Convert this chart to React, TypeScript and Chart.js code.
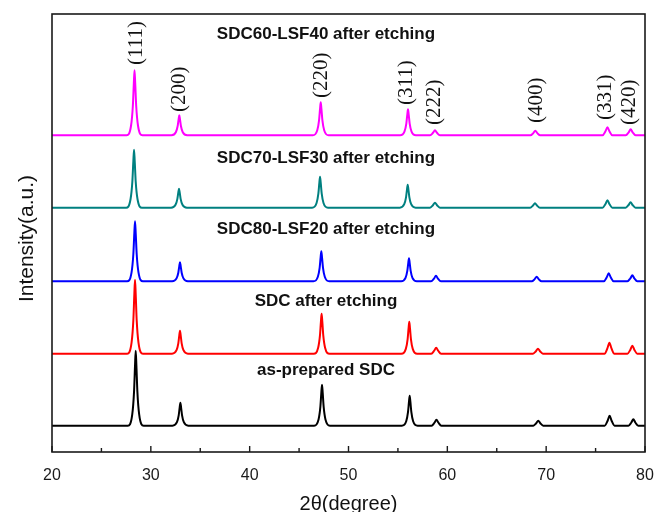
import React, { useEffect, useRef } from 'react';
import { Chart, registerables } from 'chart.js';

Chart.register(...registerables);

type Pt = [number, number];

// Series names, colours and vertical offsets (stacked display, a.u.)
const seriesNames = [
  'as-prepared SDC',
  'SDC after etching',
  'SDC80-LSF20 after etching',
  'SDC70-LSF30 after etching',
  'SDC60-LSF40 after etching',
];
const seriesColors = ['#000000', '#ff0000', '#0000ff', '#008080', '#ff00ff'];
const seriesOffsets = [26.3, 98.3, 170.7, 244.3, 316.7];

// Intensity above baseline (a.u.) vs 2θ (degree)
const asPrepared: Pt[] = [
  [20, 0],
  [27.67, 0], [28.12, 11.3], [28.3, 33.8], [28.4, 60], [28.47, 75], [28.54, 60], [28.64, 33.8], [28.82, 11.3], [29.27, 0],
  [32.19, 0], [32.64, 3.5], [32.82, 10.4], [32.92, 18.4], [32.99, 23], [33.06, 18.4], [33.16, 10.4], [33.34, 3.5], [33.79, 0],
  [46.52, 0], [46.97, 6.2], [47.15, 18.5], [47.25, 32.8], [47.32, 41], [47.39, 32.8], [47.49, 18.5], [47.67, 6.2], [48.12, 0],
  [55.39, 0], [55.84, 4.5], [56.02, 13.5], [56.12, 24], [56.19, 30], [56.26, 24], [56.36, 13.5], [56.54, 4.5], [56.99, 0],
  [58.4, 0], [58.7, 3], [58.9, 6], [59.1, 3], [59.4, 0],
  [68.7, 0], [69.0, 2.5], [69.2, 5], [69.4, 2.5], [69.7, 0],
  [75.92, 0], [76.22, 5], [76.42, 10], [76.62, 5], [76.92, 0],
  [78.32, 0], [78.62, 3.2], [78.82, 6.5], [79.02, 3.2], [79.32, 0],
  [80, 0],
];

const sdcEtched: Pt[] = [
  [20, 0],
  [27.6, 0], [28.05, 11.1], [28.23, 33.3], [28.33, 59.2], [28.4, 74], [28.47, 59.2], [28.57, 33.3], [28.75, 11.1], [29.2, 0],
  [32.15, 0], [32.6, 3.5], [32.78, 10.4], [32.88, 18.4], [32.95, 23], [33.02, 18.4], [33.12, 10.4], [33.3, 3.5], [33.75, 0],
  [46.48, 0], [46.93, 6], [47.11, 18], [47.21, 32], [47.28, 40], [47.35, 32], [47.45, 18], [47.63, 6], [48.08, 0],
  [55.35, 0], [55.8, 4.8], [55.98, 14.4], [56.08, 25.6], [56.15, 32], [56.22, 25.6], [56.32, 14.4], [56.5, 4.8], [56.95, 0],
  [58.37, 0], [58.67, 3], [58.87, 6], [59.07, 3], [59.37, 0],
  [68.67, 0], [68.97, 2.5], [69.17, 5], [69.37, 2.5], [69.67, 0],
  [75.9, 0], [76.2, 5.5], [76.4, 11], [76.6, 5.5], [76.9, 0],
  [78.22, 0], [78.52, 4], [78.72, 8], [78.92, 4], [79.22, 0],
  [80, 0],
];

const sdc80: Pt[] = [
  [20, 0],
  [27.6, 0], [28.05, 9], [28.23, 27], [28.33, 48], [28.4, 60], [28.47, 48], [28.57, 27], [28.75, 9], [29.2, 0],
  [32.15, 0], [32.6, 2.9], [32.78, 8.6], [32.88, 15.2], [32.95, 19], [33.02, 15.2], [33.12, 8.6], [33.3, 2.9], [33.75, 0],
  [46.45, 0], [46.9, 4.5], [47.08, 13.5], [47.18, 24], [47.25, 30], [47.32, 24], [47.42, 13.5], [47.6, 4.5], [48.05, 0],
  [55.32, 0], [55.77, 3.5], [55.95, 10.4], [56.05, 18.4], [56.12, 23], [56.19, 18.4], [56.29, 10.4], [56.47, 3.5], [56.92, 0],
  [58.35, 0], [58.65, 2.7], [58.85, 5.5], [59.05, 2.7], [59.35, 0],
  [68.54, 0], [68.84, 2.2], [69.04, 4.5], [69.24, 2.2], [69.54, 0],
  [75.83, 0], [76.13, 4], [76.33, 8], [76.53, 4], [76.83, 0],
  [78.22, 0], [78.52, 3], [78.72, 6], [78.92, 3], [79.22, 0],
  [80, 0],
];

const sdc70: Pt[] = [
  [20, 0],
  [27.5, 0], [27.95, 8.7], [28.13, 26.1], [28.23, 46.4], [28.3, 58], [28.37, 46.4], [28.47, 26.1], [28.65, 8.7], [29.1, 0],
  [32.05, 0], [32.5, 2.9], [32.68, 8.6], [32.78, 15.2], [32.85, 19], [32.92, 15.2], [33.02, 8.6], [33.2, 2.9], [33.65, 0],
  [46.32, 0], [46.77, 4.7], [46.95, 14], [47.05, 24.8], [47.12, 31], [47.19, 24.8], [47.29, 14], [47.47, 4.7], [47.92, 0],
  [55.19, 0], [55.64, 3.5], [55.82, 10.4], [55.92, 18.4], [55.99, 23], [56.06, 18.4], [56.16, 10.4], [56.34, 3.5], [56.79, 0],
  [58.25, 0], [58.55, 2.5], [58.75, 5], [58.95, 2.5], [59.25, 0],
  [68.37, 0], [68.67, 2.2], [68.87, 4.5], [69.07, 2.2], [69.37, 0],
  [75.7, 0], [76.0, 3.7], [76.2, 7.5], [76.4, 3.7], [76.7, 0],
  [78.04, 0], [78.34, 2.7], [78.54, 5.5], [78.74, 2.7], [79.04, 0],
  [80, 0],
];

const sdc60: Pt[] = [
  [20, 0],
  [27.55, 0], [28.0, 9.8], [28.18, 29.3], [28.28, 52], [28.35, 65], [28.42, 52], [28.52, 29.3], [28.7, 9.8], [29.15, 0],
  [32.08, 0], [32.53, 3], [32.71, 9], [32.81, 16], [32.88, 20], [32.95, 16], [33.05, 9], [33.23, 3], [33.68, 0],
  [46.39, 0], [46.84, 5], [47.02, 14.9], [47.12, 26.4], [47.19, 33], [47.26, 26.4], [47.36, 14.9], [47.54, 5], [47.99, 0],
  [55.22, 0], [55.67, 3.9], [55.85, 11.7], [55.95, 20.8], [56.02, 26], [56.09, 20.8], [56.19, 11.7], [56.37, 3.9], [56.82, 0],
  [58.25, 0], [58.55, 2.5], [58.75, 5], [58.95, 2.5], [59.25, 0],
  [68.4, 0], [68.7, 2.2], [68.9, 4.5], [69.1, 2.2], [69.4, 0],
  [75.7, 0], [76.0, 4], [76.2, 8], [76.4, 4], [76.7, 0],
  [78.05, 0], [78.35, 3], [78.55, 6], [78.75, 3], [79.05, 0],
  [80, 0],
];

const seriesData: Pt[][] = [asPrepared, sdcEtched, sdc80, sdc70, sdc60];

// Series label anchor (2θ, a.u. on the stacked scale)
const seriesLabelX = [47.72, 47.72, 47.72, 47.72, 47.72];
const seriesLabelY = [77, 146.5, 218, 289, 412.7];

// Miller index annotations
const hklLabels = ['(111)', '(200)', '(220)', '(311)', '(222)', '(400)', '(331)', '(420)'];
const hklX = [28.5, 32.85, 47.22, 55.82, 58.65, 68.97, 75.96, 78.38];
const hklY = [387, 340, 354, 347, 327, 329, 332, 327];

const xMin = 20;
const xMax = 80;
const xMajorStep = 10;
const xMinorStep = 5;
const yMax = 438;

const SANS = '"Liberation Sans", Arial, sans-serif';
const SERIF = '"Liberation Serif", "Times New Roman", serif';

const decorPlugin = {
  id: 'decor',
  afterDraw(chart: any) {
    const { ctx, chartArea } = chart;
    const xs = chart.scales.x;
    const ys = chart.scales.y;
    const { left, right, top, bottom } = chartArea;
    ctx.save();
    // frame
    ctx.strokeStyle = '#1a1a1a';
    ctx.lineWidth = 1.6;
    ctx.strokeRect(left, top, right - left, bottom - top);
    // inward ticks on bottom axis
    ctx.lineWidth = 1.4;
    for (let v = xMin; v <= xMax; v += xMinorStep) {
      const px = xs.getPixelForValue(v);
      const len = v % xMajorStep === 0 ? 6 : 4;
      ctx.beginPath();
      ctx.moveTo(px, bottom);
      ctx.lineTo(px, bottom - len);
      ctx.stroke();
    }
    // axis titles
    ctx.fillStyle = '#111';
    ctx.font = `20px ${SANS}`;
    ctx.textAlign = 'center';
    ctx.textBaseline = 'alphabetic';
    ctx.fillText('2θ(degree)', (left + right) / 2, 510);
    ctx.save();
    ctx.translate(33, 238.5);
    ctx.rotate(-Math.PI / 2);
    ctx.font = `21px ${SANS}`;
    ctx.fillText('Intensity(a.u.)', 0, 0);
    ctx.restore();
    // series labels
    ctx.font = `bold 17px ${SANS}`;
    ctx.textAlign = 'center';
    ctx.textBaseline = 'alphabetic';
    seriesNames.forEach((name, i) => {
      ctx.fillText(name, xs.getPixelForValue(seriesLabelX[i]), ys.getPixelForValue(seriesLabelY[i]));
    });
    // hkl labels (rotated)
    ctx.font = `21px ${SERIF}`;
    hklLabels.forEach((lab, i) => {
      ctx.save();
      ctx.translate(xs.getPixelForValue(hklX[i]), ys.getPixelForValue(hklY[i]));
      ctx.rotate(-Math.PI / 2);
      ctx.textAlign = 'left';
      ctx.textBaseline = 'middle';
      ctx.fillText(lab, 0, 0);
      ctx.restore();
    });
    ctx.restore();
  },
};

export default function App() {
  const ref = useRef<HTMLCanvasElement>(null);
  useEffect(() => {
    const canvas = ref.current;
    if (!canvas) return;
    const chart = new Chart(canvas, {
      type: 'line',
      data: {
        datasets: seriesData.map((s, i) => ({
          label: seriesNames[i],
          data: s.map(([x, y]) => ({ x, y: y + seriesOffsets[i] })),
          borderColor: seriesColors[i],
          backgroundColor: seriesColors[i],
          borderWidth: 2,
          pointRadius: 0,
          fill: false,
          cubicInterpolationMode: 'monotone',
          borderJoinStyle: 'round',
        })),
      },
      options: {
        animation: false,
        responsive: false,
        layout: { padding: { left: 52, top: 14, right: 12, bottom: 0 } },
        plugins: { legend: { display: false }, tooltip: { enabled: false } },
        scales: {
          x: {
            type: 'linear',
            min: xMin,
            max: xMax,
            grid: { display: false, drawTicks: false },
            border: { display: false },
            ticks: {
              stepSize: xMajorStep,
              padding: 14,
              color: '#1a1a1a',
              font: { family: SANS, size: 16 },
              maxRotation: 0,
            },
            afterFit: (s: any) => {
              s.height = 60;
              s.paddingLeft = 0;
              s.paddingRight = 0;
            },
          },
          y: { type: 'linear', display: false, min: 0, max: yMax },
        },
      } as any,
      plugins: [decorPlugin],
    });
    return () => chart.destroy();
  }, []);
  return (
    <div style={{ position: 'fixed', left: 0, top: 0, width: 657, height: 512, background: '#fff' }}>
      <canvas ref={ref} width={657} height={512} style={{ display: 'block', width: 657, height: 512 }} />
    </div>
  );
}
